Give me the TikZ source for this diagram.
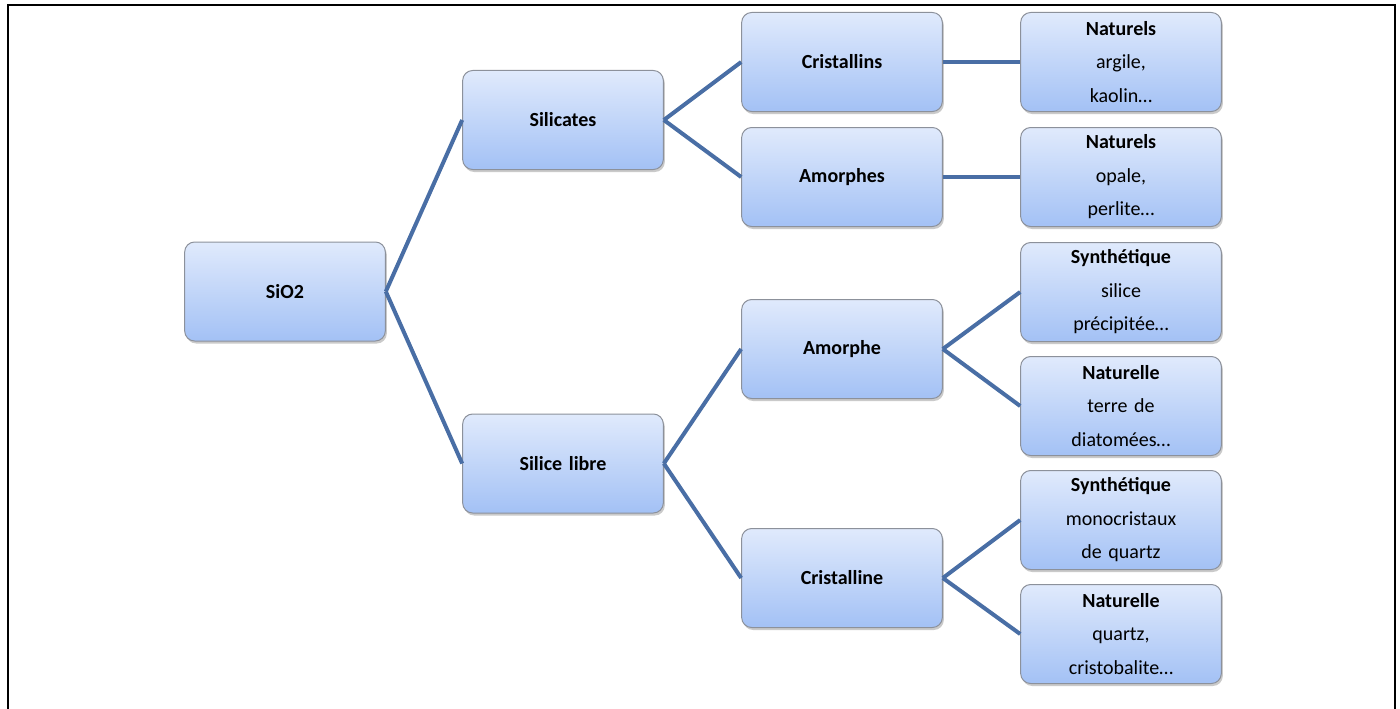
\documentclass[tikz,border=0pt]{standalone}
\usepackage{fontspec}
\setmainfont{Carlito}
\usetikzlibrary{shadows}
\definecolor{boxtop}{RGB}{224,234,252}
\definecolor{boxbot}{RGB}{163,193,245}
\definecolor{boxedge}{RGB}{140,145,155}
\definecolor{connc}{RGB}{73,110,165}
\tikzset{
  box/.style={draw=boxedge, line width=1pt, rounded corners=10pt,
    top color=boxtop, bottom color=boxbot,
    minimum width=200pt, minimum height=99pt, text width=194pt, align=center,
    font=\fontsize{20}{33.5}\selectfont,
    drop shadow={opacity=0.35, shadow xshift=1.5pt, shadow yshift=-2.5pt, fill=black!60}},
  conn/.style={draw=connc, line width=4pt},
}
\begin{document}
\begin{tikzpicture}[x=1pt,y=-1pt]
\useasboundingbox (0,0) rectangle (1400,709);
\draw[line width=2.5pt] (8,712) -- (8,5) -- (1395,5) -- (1395,712);

\node[box] (sio2) at (285,291.5) {\textbf{SiO2}};
\node[box] (silicates) at (563,120) {\textbf{Silicates}};
\node[box] (libre) at (563,463.5) {\textbf{Silice libre}};
\node[box] (cristallins) at (842,62) {\textbf{Cristallins}};
\node[box] (amorphes) at (842,177) {\textbf{Amorphes}};
\node[box] (amorphe) at (842,349) {\textbf{Amorphe}};
\node[box] (cristalline) at (842,578) {\textbf{Cristalline}};
\node[box] (nat1) at (1121,62) {\textbf{Naturels}\\argile,\\kaolin…};
\node[box] (nat2) at (1121,177) {\textbf{Naturels}\\opale,\\perlite…};
\node[box] (syn1) at (1121,292) {\textbf{Synthétique}\\silice\\précipitée…};
\node[box] (nat3) at (1121,406) {\textbf{Naturelle}\\terre de\\diatomées…};
\node[box] (syn2) at (1121,520) {\textbf{Synthétique}\\monocristaux\\de quartz};
\node[box] (nat4) at (1121,634) {\textbf{Naturelle}\\quartz,\\cristobalite…};

\draw[conn] (sio2.east) -- (silicates.west);
\draw[conn] (sio2.east) -- (libre.west);
\draw[conn] (silicates.east) -- (cristallins.west);
\draw[conn] (silicates.east) -- (amorphes.west);
\draw[conn] (libre.east) -- (amorphe.west);
\draw[conn] (libre.east) -- (cristalline.west);
\draw[conn] (cristallins.east) -- (nat1.west);
\draw[conn] (amorphes.east) -- (nat2.west);
\draw[conn] (amorphe.east) -- (syn1.west);
\draw[conn] (amorphe.east) -- (nat3.west);
\draw[conn] (cristalline.east) -- (syn2.west);
\draw[conn] (cristalline.east) -- (nat4.west);
\end{tikzpicture}
\end{document}
